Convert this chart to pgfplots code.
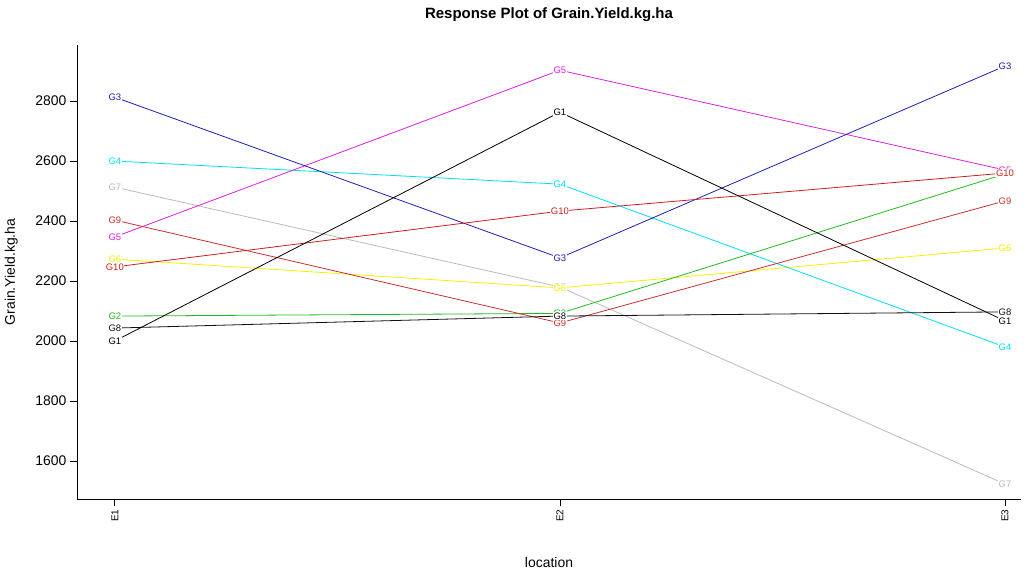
\documentclass[border=0pt]{standalone}
\usepackage{pgfplots}
\pgfplotsset{compat=1.18}
\usepackage{fontspec}
\setmainfont{Liberation Sans}
\definecolor{cG1}{HTML}{000000}
\definecolor{cG2}{HTML}{22BB22}
\definecolor{cG3}{HTML}{2020B0}
\definecolor{cG4}{HTML}{00E0F0}
\definecolor{cG5}{HTML}{DD22DD}
\definecolor{cG6}{HTML}{F5F000}
\definecolor{cG7}{HTML}{BBBBBB}
\definecolor{cG8}{HTML}{111111}
\definecolor{cG9}{HTML}{CC3030}
\definecolor{cG10}{HTML}{CC2020}
\pgfplotsset{
  gline/.style 2 args={color=#1, line width=0.8bp, no marks,
    nodes near coords={#2},
    every node near coord/.append style={anchor=center, text=#1, fill=white, inner sep=0.6bp,
      font=\fontsize{9.5}{9.5}\selectfont}}
}
\begin{document}
\begin{tikzpicture}
\useasboundingbox (-77bp,-74bp) rectangle (957bp,499bp);
\begin{axis}[
  at={(0,0)}, anchor=south west,
  scale only axis, width=944bp, height=454bp,
  xmin=0.915, xmax=3.036, ymin=1473, ymax=2987,
  axis x line*=bottom, axis y line*=left,
  axis line style={line width=0.8bp, -},
  xtick={1,2,3}, xticklabels={E1,E2,E3},
  ytick={1600,1800,2000,2200,2400,2600,2800},
  tick align=outside, major tick length=7bp,
  tick style={line width=0.8bp, black},
  x tick label style={rotate=90, anchor=east, font=\fontsize{10}{10}\selectfont},
  y tick label style={font=\fontsize{14}{14}\selectfont},
  /pgf/number format/assume math mode=true,
  yticklabel style={/pgf/number format/1000 sep={}},
  xlabel={location}, ylabel={Grain.Yield.kg.ha},
  xlabel style={font=\fontsize{14}{14}\selectfont, at={(axis description cs:0.5,0)}, anchor=north, yshift=-55bp},
  ylabel style={font=\fontsize{14}{14}\selectfont, at={(axis description cs:-0.059,0.5)}, anchor=south},
  title={\bfseries Response Plot of Grain.Yield.kg.ha},
  title style={font=\fontsize{15}{15}\selectfont, at={(axis description cs:0.5,1)}, anchor=south, yshift=14bp},
  clip=false,
]
\addplot[gline={cG7}{G7}] coordinates {(1,2513) (2,2180) (3,1523)};
\addplot[gline={cG6}{G6}] coordinates {(1,2273) (2,2177) (3,2310)};
\addplot[gline={cG4}{G4}] coordinates {(1,2600) (2,2523) (3,1980)};
\addplot[gline={cG5}{G5}] coordinates {(1,2347) (2,2903) (3,2570)};
\addplot[gline={cG3}{G3}] coordinates {(1,2813) (2,2277) (3,2917)};
\addplot[gline={cG2}{G2}] coordinates {(1,2083) (2,2092) (3,2557)};
\addplot[gline={cG9}{G9}] coordinates {(1,2403) (2,2060) (3,2467)};
\addplot[gline={cG10}{G10}] coordinates {(1,2247) (2,2433) (3,2560)};
\addplot[gline={cG8}{G8}] coordinates {(1,2043) (2,2083) (3,2097)};
\addplot[gline={cG1}{G1}] coordinates {(1,2000) (2,2763) (3,2067)};
\end{axis}
\end{tikzpicture}
\end{document}
